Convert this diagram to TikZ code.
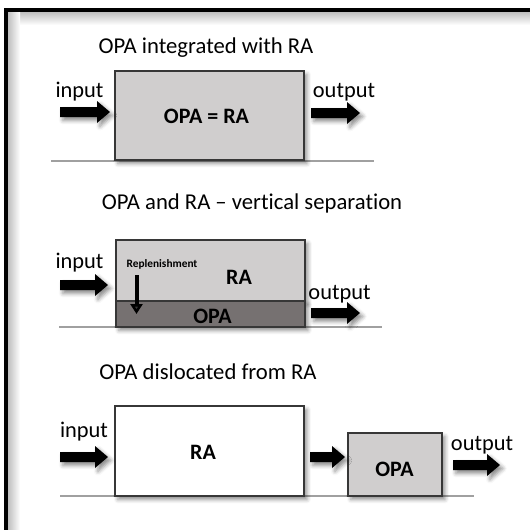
\documentclass[tikz,border=0pt]{standalone}
\usepackage{fontspec}
\setmainfont{Carlito}[Ligatures={TeX,NoCommon}]
\usetikzlibrary{shadows.blur,arrows.meta}

\definecolor{boxlight}{RGB}{208,206,206}
\definecolor{boxdark}{RGB}{118,113,113}
\definecolor{edgegray}{RGB}{55,55,55}
\definecolor{groundgray}{RGB}{160,160,160}

% block arrow from x=#2 to tip x=#3 at height y=#4, named #1 at its tail
\newcommand\fatarrow[4]{%
  \coordinate (#1) at (#2,#4);
  \fill[black,softshadow] (#2,#4-5) -- (#3-13,#4-5) -- (#3-13,#4-11)
    -- (#3,#4) -- (#3-13,#4+11) -- (#3-13,#4+5) -- (#2,#4+5) -- cycle;}

\begin{document}
\begin{tikzpicture}[x=0.75pt,y=-0.75pt,
  softshadow/.style={blur shadow={shadow xshift=2.2pt,shadow yshift=-2.6pt,
      shadow blur radius=3pt,shadow opacity=45}},
  block/.style={draw=edgegray,line width=1.1pt,inner sep=0pt,softshadow},
  title/.style={font=\fontsize{17}{19}\selectfont,anchor=base},
  io/.style={font=\fontsize{16.8}{18}\selectfont,anchor=base},
  boxlabel/.style={font=\bfseries\fontsize{16.5}{18}\selectfont,anchor=base},
  ground/.style={draw=groundgray,line width=0.8pt}]

\useasboundingbox (0,0) rectangle (530,529);

% frame with inner shading along the top and left edges
\shade[top color=black!25,bottom color=white] (8,12) rectangle (560,25);
\shade[left color=black!25,right color=white] (8,12) rectangle (20,560);
\draw[line width=3pt] (6,560) |- (560,10);

% ---------- integrated ----------
\node[title] (t1) at (206,53) {OPA integrated with RA};
\coordinate (g1a) at (51,161);
\coordinate (g1b) at (374,161);
\draw[ground] (g1a) -- (g1b);
\node[block,fill=boxlight,minimum width=141.75pt,minimum height=66.75pt]
  (box1) at (209.5,115.5) {};
\node[boxlabel] (l1) at (206.5,123) {OPA = RA};
\node[io] (in1) at (79.5,97) {input};
\node[io] (out1) at (344,97) {output};
\fatarrow{a1in}{60}{110}{112}
\fatarrow{a1out}{311}{360}{113}

% ---------- vertical separation ----------
\node[title] (t2) at (252,209) {OPA and RA -- vertical separation};
\coordinate (g2a) at (59,327);
\coordinate (g2b) at (382,327);
\draw[ground] (g2a) -- (g2b);
\node[block,fill=boxlight,minimum width=141.75pt,minimum height=45.75pt]
  (ra2) at (210.5,270.5) {};
\node[block,fill=boxdark,minimum width=141.75pt,minimum height=19.5pt]
  (opa2) at (210.5,314) {};
\node[boxlabel] (l2a) at (239,284) {RA};
\node[boxlabel] (l2b) at (212.5,323) {OPA};
\node[font=\bfseries\fontsize{8.5}{10}\selectfont,anchor=base] (rep) at (162,267) {Replenishment};
\coordinate (repstart) at (136.5,275);
\coordinate (repend) at (136.5,314);
\draw[line width=3pt,-{Triangle[length=7.5pt,width=9pt]}] (repstart) -- (repend);
\node[io] (in2) at (79.5,268) {input};
\node[io] (out2) at (339.5,299) {output};
\fatarrow{a2in}{60}{108}{285}
\fatarrow{a2out}{311}{360}{313}

% ---------- dislocated ----------
\node[title] (t3) at (208,379) {OPA dislocated from RA};
\coordinate (g3a) at (60,496);
\coordinate (g3b) at (474,496);
\draw[ground] (g3a) -- (g3b);
\node[block,fill=white,minimum width=141.75pt,minimum height=67.5pt]
  (ra3) at (209.5,451) {};
\node[block,fill=boxlight,minimum width=70.5pt,minimum height=47.25pt]
  (opa3) at (395,464.5) {};
\node[boxlabel] (l3a) at (203,459) {RA};
\node[boxlabel] (l3b) at (394.5,476) {OPA};
\node[io] (in3) at (84,437) {input};
\node[io] (out3) at (482,450) {output};
\fatarrow{a3in}{60}{108}{457}
\fatarrow{a3mid}{310}{345}{457}
\fatarrow{a3out}{453}{500}{465}
\end{tikzpicture}
\end{document}
